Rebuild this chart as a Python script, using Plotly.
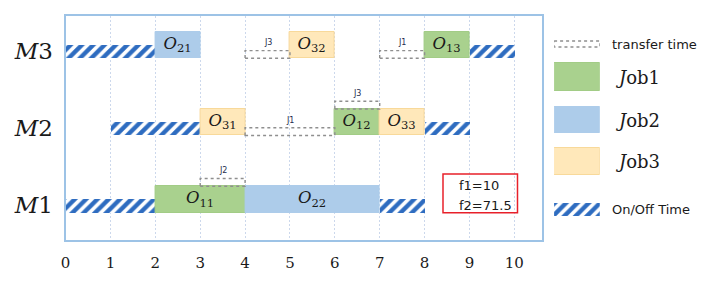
import plotly.graph_objects as go

# ---------------- data ----------------
machines = ["M1", "M2", "M3"]
machine_level = {"M1": 1, "M2": 2, "M3": 3}

op_machine = ["M1", "M1", "M2", "M2", "M2", "M3", "M3", "M3"]
op_job = [1, 2, 3, 1, 3, 2, 3, 1]
op_index = ["11", "22", "31", "12", "33", "21", "32", "13"]
op_start = [2, 4, 3, 6, 7, 2, 5, 8]
op_end = [4, 7, 4, 7, 8, 3, 6, 9]

onoff_machine = ["M1", "M1", "M2", "M2", "M3", "M3"]
onoff_start = [0, 7, 1, 8, 0, 9]
onoff_end = [2, 8, 3, 9, 2, 10]

tr_machine = ["M1", "M2", "M2", "M3", "M3"]
tr_job = ["J2", "J1", "J3", "J3", "J1"]
tr_start = [3, 4, 6, 4, 7]
tr_end = [4, 6, 7, 5, 8]
tr_on_top = [True, False, True, False, False]

x_ticks = [0, 1, 2, 3, 4, 5, 6, 7, 8, 9, 10]
f_lines = ["f1=10", "f2=71.5"]

# ---------------- style ----------------
W, H = 708, 283
PX_L, PX_R, PX_T, PX_B = 61, 541, 16, 240
BAR_H = 0.343
STRIPE_H = 0.172
TR_H = 0.10
JOB_COLORS = {1: "#A9D18E", 2: "#ADCCEA", 3: "#FFE8BA"}
JOB_LINES = {1: "#A2CC86", 2: "#ADCCEA", 3: "#F8D99A"}
STRIPE_FG = "#2E6CC0"
SERIF = "DejaVu Serif"
SANS = "DejaVu Sans"
STRIPE_PATTERN = dict(shape="/", fgcolor=STRIPE_FG, bgcolor="white", fgopacity=1,
                      size=8, solidity=0.55, fillmode="overlay")

fig = go.Figure()

# on/off stripes
fig.add_trace(go.Bar(
    orientation="h",
    base=onoff_start,
    x=[e - s for s, e in zip(onoff_start, onoff_end)],
    y=[machine_level[m] + STRIPE_H / 2 for m in onoff_machine],
    width=STRIPE_H,
    marker=dict(color="white", line=dict(width=0), pattern=STRIPE_PATTERN),
    showlegend=False, hoverinfo="skip",
))

# operations per job
for j in (1, 2, 3):
    idx = [i for i in range(len(op_job)) if op_job[i] == j]
    fig.add_trace(go.Bar(
        orientation="h",
        base=[op_start[i] for i in idx],
        x=[op_end[i] - op_start[i] for i in idx],
        y=[machine_level[op_machine[i]] + BAR_H / 2 for i in idx],
        width=BAR_H,
        marker=dict(color=JOB_COLORS[j], line=dict(color=JOB_LINES[j], width=1)),
        text=[f"<i>O</i><sub>{op_index[i]}</sub>" for i in idx],
        textposition="inside",
        insidetextanchor="middle",
        constraintext="none",
        textfont=dict(family=SERIF, size=16.5, color="#1a1a1a"),
        showlegend=False, hoverinfo="skip",
    ))

# transfer boxes
for m, jb, s, e, top in zip(tr_machine, tr_job, tr_start, tr_end, tr_on_top):
    y0 = machine_level[m] + (BAR_H if top else 0)
    y1 = y0 + TR_H
    fig.add_shape(type="rect", xref="x", yref="y", x0=s, x1=e, y0=y0, y1=y1,
                  line=dict(color="#8f8f8f", width=1.4, dash="dot"),
                  fillcolor="rgba(0,0,0,0)")
    fig.add_annotation(x=(s + e) / 2, y=y1 + 0.015, xref="x", yref="y",
                       text=jb, showarrow=False, yanchor="bottom",
                       font=dict(family=SANS, size=8, color="#1F2D4D"))

# result box
fig.add_shape(type="rect", xref="x", yref="y", x0=8.41, x1=10.07, y0=1.0, y1=1.5,
              line=dict(color="#E8202A", width=1.5), fillcolor="rgba(0,0,0,0)")
for k, t in enumerate(f_lines):
    fig.add_annotation(x=8.72, y=1.35 - k * 0.26, xref="x", yref="y", text=t,
                       showarrow=False, xanchor="left",
                       font=dict(family=SANS, size=13, color="#1a1a1a"))

# ---------------- legend (auxiliary axes in pixel units) ----------------
LEG_X0, LEG_X1 = 553, 599
leg_items = [
    ("transfer time", "transfer", 41, 47),
    ("<i>J</i>ob1", 1, 63, 91),
    ("<i>J</i>ob2", 2, 107, 133),
    ("<i>J</i>ob3", 3, 148, 175),
    ("On/Off Time", "onoff", 203, 216),
]
for label, kind, yt, yb in leg_items:
    yc = (yt + yb) / 2
    if kind == "transfer":
        fig.add_shape(type="rect", xref="x2", yref="y2", x0=0, x1=1, y0=yt, y1=yb,
                      line=dict(color="#8f8f8f", width=1.4, dash="dot"),
                      fillcolor="rgba(0,0,0,0)")
    elif kind == "onoff":
        fig.add_trace(go.Bar(orientation="h", base=[0], x=[1], y=[yc], width=yb - yt,
                             xaxis="x2", yaxis="y2",
                             marker=dict(color="white", line=dict(width=0),
                                         pattern=STRIPE_PATTERN),
                             showlegend=False, hoverinfo="skip"))
    else:
        fig.add_trace(go.Bar(orientation="h", base=[0], x=[1], y=[yc], width=yb - yt,
                             xaxis="x2", yaxis="y2",
                             marker=dict(color=JOB_COLORS[kind],
                                         line=dict(color=JOB_LINES[kind], width=1)),
                             showlegend=False, hoverinfo="skip"))
    is_job = kind in (1, 2, 3)
    fig.add_annotation(x=(612 if is_job else 609) / W, xref="paper", y=yc, yref="y2",
                       text=label, showarrow=False, xanchor="left", yanchor="middle",
                       font=dict(family=SERIF if is_job else SANS,
                                 size=18 if is_job else 13, color="#1a1a1a"))

fig.update_layout(
    width=W, height=H, autosize=False,
    margin=dict(l=0, r=0, t=0, b=0),
    paper_bgcolor="white", plot_bgcolor="white",
    barmode="overlay", bargap=0,
    xaxis=dict(domain=[PX_L / W, PX_R / W], range=[0, 10.62],
               tickvals=x_ticks, ticktext=[str(v) for v in x_ticks],
               showgrid=True, gridcolor="#CCD8EC", griddash="2px,2px", gridwidth=1,
               zeroline=False, showline=True, mirror=True,
               linecolor="#9DC3E6", linewidth=2, ticks="",
               ticklabelstandoff=8,
               tickfont=dict(family=SERIF, size=15, color="#1a1a1a")),
    yaxis=dict(domain=[1 - PX_B / H, 1 - PX_T / H], range=[0.646, 3.548],
               tickvals=[machine_level[m] + 0.10 for m in machines],
               ticktext=[f"<i>M</i>{m[1:]}" for m in machines],
               showgrid=False, zeroline=False, showline=True, mirror=True,
               linecolor="#9DC3E6", linewidth=2, ticks="",
               ticklabelstandoff=6,
               tickfont=dict(family=SERIF, size=23, color="#1a1a1a")),
    xaxis2=dict(domain=[LEG_X0 / W, LEG_X1 / W], range=[0, 1], visible=False,
                anchor="y2", fixedrange=True),
    yaxis2=dict(domain=[0, 1], range=[H, 0], visible=False, anchor="x2",
                fixedrange=True),
    showlegend=False,
)

fig.write_html("out.html", config={"displayModeBar": False},
               post_script="document.body.style.margin='0';document.body.style.overflow='hidden';")
